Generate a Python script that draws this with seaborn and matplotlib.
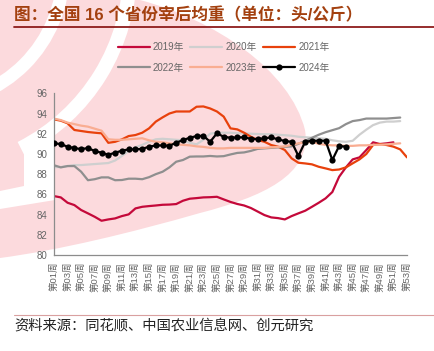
import numpy as np
import pandas as pd
import matplotlib
matplotlib.use("Agg")
import matplotlib.pyplot as plt
import seaborn as sns
from matplotlib.patches import PathPatch, Wedge, Polygon
from matplotlib.path import Path

# ==================== 数据 ====================
y2019 = [85.83, 85.70, 85.17, 84.94, 84.45, 84.12, 83.78, 83.39, 83.52, 83.62,
         83.85, 84.02, 84.61, 84.77, 84.84, 84.90, 84.97, 84.99, 85.04, 85.37,
         85.57, 85.63, 85.70, 85.72, 85.76, 85.50, 85.25, 85.05, 84.90, 84.65,
         84.30, 83.95, 83.72, 83.65, 83.52, 83.85, 84.12, 84.38, 84.77, 85.17,
         85.60, 86.23, 87.74, 88.67, 89.46, 89.66, 90.38, 91.15, 90.98, 91.05,
         91.15]
y2020 = [88.70, 88.70, 88.80, 88.90, 88.90, 88.95, 89.00, 89.05, 89.10, 89.35,
         89.80, 90.30, 90.65, 90.90, 91.20, 91.45, 91.50, 91.45, 91.40, 91.35,
         91.10, 90.95, 91.40, 92.00, 92.10, 92.10, 92.10, 92.05, 92.04, 92.00,
         91.97, 91.95, 91.95, 91.90, 91.85, 91.80, 91.70, 91.65, 91.60, 91.55,
         91.50, 91.35, 91.25, 91.20, 91.30, 91.90, 92.40, 92.85, 93.10, 93.20,
         93.20, 93.25]
y2021 = [93.42, 93.29, 93.03, 92.37, 92.27, 92.17, 92.10, 92.04, 91.10, 91.20,
         91.44, 91.77, 91.87, 92.10, 92.53, 93.20, 93.62, 94.00, 94.20, 94.20,
         94.20, 94.67, 94.70, 94.50, 94.20, 93.69, 92.53, 92.43, 92.10, 91.70,
         91.38, 91.20, 90.88, 90.72, 90.39, 89.56, 89.13, 89.06, 88.97, 88.73,
         88.57, 88.40, 88.46, 88.67, 89.07, 89.46, 89.99, 90.88, 90.98, 90.88,
         90.72, 90.45, 89.66]
y2022 = [88.88, 88.67, 88.80, 88.80, 88.24, 87.40, 87.50, 87.68, 87.68, 87.40,
         87.42, 87.55, 87.55, 87.50, 87.70, 88.00, 88.24, 88.67, 89.23, 89.40,
         89.73, 89.75, 89.75, 89.80, 89.75, 89.78, 89.95, 90.10, 90.15, 90.30,
         90.50, 90.55, 90.60, 90.65, 90.70, 90.75, 91.00, 91.30, 91.60, 91.90,
         92.15, 92.35, 92.55, 92.95, 93.25, 93.35, 93.50, 93.50, 93.50, 93.50,
         93.55, 93.60]
y2023 = [93.50, 93.35, 93.10, 92.95, 92.80, 92.70, 92.50, 92.30, 91.45, 91.40,
         91.40, 91.45, 91.50, 91.55, 91.35, 91.20, 91.15, 91.05, 90.95, 90.90,
         90.85, 90.75, 90.70, 90.60, 90.55, 90.55, 90.60, 90.60, 90.60, 90.60,
         90.60, 90.60, 90.65, 90.70, 90.75, 90.90, 91.05, 91.15, 91.20, 91.00,
         90.90, 90.85, 90.85, 90.80, 90.80, 90.85, 90.85, 90.90, 90.90, 90.95,
         91.00, 91.05]
y2024 = [91.05, 90.98, 90.71, 90.58, 90.48, 90.58, 90.29, 90.12, 89.92, 90.12,
         90.32, 90.45, 90.45, 90.51, 90.71, 90.84, 90.84, 90.81, 91.11, 91.37,
         91.60, 91.77, 91.80, 91.20, 92.04, 91.70, 91.60, 91.64, 91.64, 91.50,
         91.47, 91.54, 91.64, 91.44, 91.28, 91.20, 89.80, 91.20, 91.31, 91.31,
         91.31, 89.40, 90.78, 90.72]

series = {"2019年": y2019, "2020年": y2020, "2021年": y2021,
          "2022年": y2022, "2023年": y2023, "2024年": y2024}
colors = {"2019年": "#C4093A", "2020年": "#CFCFCF", "2021年": "#E8410C",
          "2022年": "#8F8F8F", "2023年": "#F9AD92", "2024年": "#000000"}

week_ticks = list(range(1, 54, 2))
week_labels = [f"第{w:02d}周" for w in week_ticks]

# ==================== 画布 ====================
sns.set_style("white")
plt.rcParams['font.family'] = ['Liberation Sans', 'Noto Sans CJK SC', 'DejaVu Sans']
plt.rcParams['axes.unicode_minus'] = False

W, H = 434, 351
fig = plt.figure(figsize=(W / 100, H / 100), dpi=100)
fig.patch.set_facecolor("white")

# 背景水印 (像素坐标, y 向下)
bg = fig.add_axes([0, 0, 1, 1], zorder=-5)
bg.set_xlim(0, W)
bg.set_ylim(H, 0)
bg.axis("off")
pink = "#FCDADD"
verts = [(0, 0), (140, 0),
         (215, 20), (290, 70), (305, 130),
         (312, 175), (262, 197), (200, 213),
         (130, 233), (60, 250), (0, 258),
         (0, 0)]
codes = [Path.MOVETO, Path.LINETO,
         Path.CURVE4, Path.CURVE4, Path.CURVE4,
         Path.CURVE4, Path.CURVE4, Path.CURVE4,
         Path.CURVE4, Path.CURVE4, Path.CURVE4,
         Path.CLOSEPOLY]
bg.add_patch(PathPatch(Path(verts, codes), facecolor=pink, edgecolor="none"))
bg.add_patch(Wedge((-70, -30), 140, 0, 90, width=13, facecolor="white", edgecolor="none"))
bg.add_patch(Wedge((-70, -30), 207, 0, 63, width=14, facecolor="white", edgecolor="none"))
bg.add_patch(Polygon([(24, 143), (55, 122), (55, 200), (0, 209), (0, 191), (24, 186)],
                     closed=True, facecolor="white", edgecolor="none"))

# 主图
ax = fig.add_axes([54 / W, 1 - 255 / H, (407 - 54) / W, (255 - 93.3) / H])
ax.patch.set_alpha(0)
for name, vals in series.items():
    weeks = np.arange(1, len(vals) + 1)
    if name == "2024年":
        sns.lineplot(x=weeks, y=vals, color=colors[name], lw=1.6, marker="o",
                     markersize=4.5, markeredgewidth=0, label=name, ax=ax, zorder=5)
    else:
        sns.lineplot(x=weeks, y=vals, color=colors[name], lw=1.6, label=name, ax=ax)

ax.set_xlim(1, 53)
ax.set_ylim(80, 96)
ax.set_yticks(range(80, 97, 2))
ax.set_xticks(week_ticks)
ax.set_xticklabels(week_labels, rotation=90)
ax.tick_params(axis="both", colors="#7F7F7F", labelcolor="#666666", labelsize=7,
               direction="out", length=3, width=0.8, pad=2)
ax.tick_params(axis="x", labelsize=6.8)
for side in ["top", "right"]:
    ax.spines[side].set_visible(False)
for side in ["left", "bottom"]:
    ax.spines[side].set_color("#8C8C8C")
    ax.spines[side].set_linewidth(0.9)
ax.set_xlabel("")
ax.set_ylabel("")

# 图例按行排列: 2019/2020/2021 在第一行
handles, labels = ax.get_legend_handles_labels()
ax.get_legend().remove()
order = [0, 3, 1, 4, 2, 5]
fig.legend([handles[i] for i in order], [labels[i] for i in order], ncol=3,
           loc="center", bbox_to_anchor=(0.515, 1 - 57.5 / H),
           frameon=False, fontsize=7, handlelength=3.3, handletextpad=0.35,
           columnspacing=0.6, labelspacing=1.1, labelcolor="#666666")

# 标题与来源
fig.text(14 / W, 1 - 15 / H, "图：全国 16 个省份宰后均重（单位：头/公斤）",
         fontsize=12, fontweight="bold", color="#A3400F", va="center", ha="left")
fig.add_artist(plt.Line2D([14 / W, 1], [1 - 27 / H] * 2, color="#8E1B1B", lw=1.3))
fig.add_artist(plt.Line2D([14 / W, 1], [1 - 315 / H] * 2, color="#D9A0A0", lw=0.8))
fig.text(14 / W, 1 - 326 / H, "资料来源：同花顺、中国农业信息网、创元研究",
         fontsize=10.3, color="#222222", va="center", ha="left")

fig.savefig("out.png", dpi=100)
